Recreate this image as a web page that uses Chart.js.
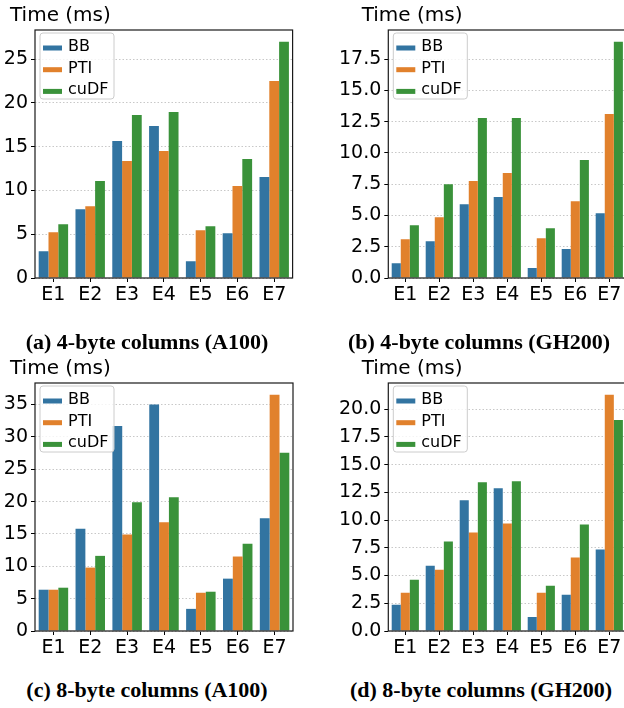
<!DOCTYPE html>
<html><head><meta charset="utf-8">
<script src="https://cdn.jsdelivr.net/npm/chart.js@4.4.1/dist/chart.umd.min.js"></script>
<style>
html,body{margin:0;padding:0;background:#fff;overflow:hidden;width:624px;height:708px;position:relative;}
canvas{position:absolute;}
.cap{position:absolute;font-family:'Liberation Serif',serif;font-weight:bold;font-size:22px;line-height:22px;white-space:nowrap;color:#000;transform:translateX(-50%);}
</style></head><body>
<canvas id="ca" width="300" height="312" style="left:0px;top:0px"></canvas>
<canvas id="cb" width="310" height="312" style="left:330px;top:0px"></canvas>
<canvas id="cc" width="300" height="312" style="left:0px;top:353px"></canvas>
<canvas id="cd" width="310" height="312" style="left:330px;top:353px"></canvas>
<div class="cap" style="left:147px;top:331px">(a) 4-byte columns (A100)</div>
<div class="cap" style="left:479px;top:331px">(b) 4-byte columns (GH200)</div>
<div class="cap" style="left:147px;top:679px">(c) 8-byte columns (A100)</div>
<div class="cap" style="left:481px;top:679px">(d) 8-byte columns (GH200)</div>
<script>
const categories = ['E1','E2','E3','E4','E5','E6','E7'];
const seriesNames = ['BB','PTI','cuDF'];
const seriesColors = ['#3274a1','#e1812c','#3a923a'];

// (a) 4-byte columns (A100)
const a4_bb   = [3.05, 7.86, 15.65, 17.37, 1.91, 5.11, 11.53];
const a4_pti  = [5.23, 8.20, 13.36, 14.50, 5.46, 10.50, 22.50];
const a4_cudf = [6.15, 11.07, 18.63, 18.97, 5.92, 13.59, 26.98];
// (b) 4-byte columns (GH200)
const gh4_bb   = [1.18, 2.94, 5.90, 6.47, 0.80, 2.32, 5.18];
const gh4_pti  = [3.10, 4.86, 7.75, 8.39, 3.18, 6.14, 13.12];
const gh4_cudf = [4.22, 7.50, 12.80, 12.80, 3.98, 9.43, 18.89];
// (c) 8-byte columns (A100)
const a8_bb   = [6.38, 15.81, 31.68, 35.00, 3.42, 8.09, 17.42];
const a8_pti  = [6.38, 9.80, 14.93, 16.80, 5.91, 11.51, 36.50];
const a8_cudf = [6.69, 11.61, 19.90, 20.68, 6.07, 13.48, 27.53];
// (d) 8-byte columns (GH200)
const gh8_bb   = [2.36, 5.89, 11.78, 12.87, 1.27, 3.26, 7.34];
const gh8_pti  = [3.44, 5.53, 8.88, 9.70, 3.44, 6.62, 21.30];
const gh8_cudf = [4.62, 8.07, 13.41, 13.50, 4.08, 9.61, 19.03];

const yTickSteps = [5, 2.5, 5, 2.5];
const yTickDecimals = [0, 1, 0, 1];
const yAxisTitle = 'Time (ms)';

const panels = [
  {id:'ca', series:[a4_bb,a4_pti,a4_cudf], titleX:10, yW:35, padRight:7.4},
  {id:'cb', series:[gh4_bb,gh4_pti,gh4_cudf], titleX:31.7, yW:58.3, padRight:13.7},
  {id:'cc', series:[a8_bb,a8_pti,a8_cudf], titleX:10, yW:35, padRight:7},
  {id:'cd', series:[gh8_bb,gh8_pti,gh8_cudf], titleX:31.7, yW:58.3, padRight:13.7}
];

const FONT = "'DejaVu Sans', sans-serif";

const framePlugin = {
  id: 'frameAndLegend',
  afterDraw(chart, args, opts) {
    const ctx = chart.ctx;
    const {left, top, right, bottom} = chart.chartArea;
    ctx.save();
    ctx.strokeStyle = '#1a1a1a';
    ctx.lineWidth = 1.2;
    ctx.strokeRect(left, top, right - left, bottom - top);
    // axis title (horizontal, above the axis, like the original)
    ctx.fillStyle = '#000';
    ctx.font = '20px ' + FONT;
    ctx.textAlign = 'left';
    ctx.textBaseline = 'alphabetic';
    ctx.fillText(opts.title, opts.titleX, 20.7);
    // legend
    const bx = left + 5, by = top + 3, bw = 74, bh = 66, r = 3;
    ctx.beginPath();
    ctx.moveTo(bx + r, by);
    ctx.arcTo(bx + bw, by, bx + bw, by + bh, r);
    ctx.arcTo(bx + bw, by + bh, bx, by + bh, r);
    ctx.arcTo(bx, by + bh, bx, by, r);
    ctx.arcTo(bx, by, bx + bw, by, r);
    ctx.closePath();
    ctx.fillStyle = 'rgba(255,255,255,0.8)';
    ctx.fill();
    ctx.strokeStyle = '#cccccc';
    ctx.lineWidth = 1;
    ctx.stroke();
    ctx.font = '16px ' + FONT;
    chart.data.datasets.forEach((ds, i) => {
      const base = top + 21 + i * 21.7;
      ctx.fillStyle = ds.backgroundColor;
      ctx.fillRect(left + 8, base - 5.5, 19, 5);
      ctx.fillStyle = '#000';
      ctx.fillText(ds.label, left + 33, base);
    });
    ctx.restore();
  }
};

panels.forEach((p, idx) => {
  const all = p.series.flat();
  const yMax = Math.max(...all) * 1.05;
  new Chart(document.getElementById(p.id), {
    type: 'bar',
    data: {
      labels: categories,
      datasets: p.series.map((d, i) => ({
        label: seriesNames[i],
        data: d,
        backgroundColor: seriesColors[i],
        borderWidth: 0,
        categoryPercentage: 0.8,
        barPercentage: 1.0
      }))
    },
    options: {
      responsive: false,
      animation: false,
      devicePixelRatio: 1,
      layout: {padding: {left: 0, right: p.padRight, top: 30, bottom: 0}},
      plugins: {
        legend: {display: false},
        tooltip: {enabled: false},
        title: {display: false},
        frameAndLegend: {title: yAxisTitle, titleX: p.titleX}
      },
      scales: {
        x: {
          type: 'category',
          offset: true,
          grid: {display: true, drawOnChartArea: false, drawTicks: true, tickLength: 4, offset: false, tickColor: '#000', tickWidth: 1},
          border: {display: false},
          ticks: {font: {family: FONT, size: 19}, color: '#000', padding: 2, autoSkip: false, maxRotation: 0, minRotation: 0},
          afterFit: (s) => { s.height = 34; }
        },
        y: {
          type: 'linear',
          min: 0,
          max: yMax,
          grid: {color: '#c8c8c8', lineWidth: 1, drawTicks: true, tickLength: 4, tickColor: '#000', tickWidth: 1},
          border: {display: false, dash: [1.5, 2]},
          ticks: {
            stepSize: yTickSteps[idx], includeBounds: false,
            font: {family: FONT, size: 19}, color: '#000', padding: 3,
            callback: (v) => Number(v).toFixed(yTickDecimals[idx])
          },
          afterFit: (s) => { s.width = p.yW; }
        }
      }
    },
    plugins: [framePlugin]
  });
});
</script>
</body></html>
